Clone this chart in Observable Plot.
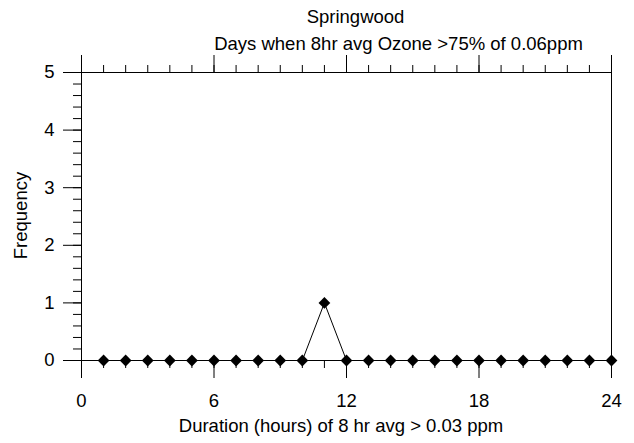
<!DOCTYPE html>
<html><head><meta charset="utf-8">
<script src="https://cdn.jsdelivr.net/npm/d3@7"></script>
<script src="https://cdn.jsdelivr.net/npm/@observablehq/plot@0.6"></script>
<style>
body{margin:0;background:#fff}
#chart svg{font-family:"Liberation Sans",Arial,sans-serif}
</style>
</head><body><div id="chart"></div>
<script>
const durations   = [1,2,3,4,5,6,7,8,9,10,11,12,13,14,15,16,17,18,19,20,21,22,23,24];
const frequencies = [0,0,0,0,0,0,0,0,0,0,1,0,0,0,0,0,0,0,0,0,0,0,0,0];
const xMajorTicks = [0,6,12,18,24];
const yMajorTicks = [0,1,2,3,4,5];
const titleText = "Springwood";
const subtitleText = "Days when 8hr avg Ozone >75% of 0.06ppm";
const xLabel = "Duration (hours) of 8 hr avg > 0.03 ppm";
const yLabel = "Frequency";

const data = durations.map((d, i) => ({duration: d, frequency: frequencies[i]}));
const xMinorTicks = d3.range(0, 25, 1);
const yMinorTicks = d3.range(0, 26, 1).map(v => v / 5);
const fs = 18.5;
const blank = () => "";
const fmt = d3.format("d");
const txt = {text: d => d, fontSize: fs, fill: "#000", lineAnchor: "middle", textAnchor: "middle"};

const chart = Plot.plot({
  width: 634,
  height: 443,
  marginLeft: 81,
  marginRight: 23,
  marginTop: 72,
  marginBottom: 83,
  style: {fontSize: fs + "px", fontFamily: '"Liberation Sans", Arial, sans-serif', background: "#fff", color: "#000"},
  x: {domain: [0, 24], label: null},
  y: {domain: [0, 5], label: null},
  marks: [
    Plot.frame({stroke: "#000"}),
    Plot.axisX({anchor: "bottom", ticks: xMajorTicks, tickSize: 18, tickPadding: 15, tickFormat: fmt, label: null, fontSize: fs}),
    Plot.axisX({anchor: "bottom", ticks: xMinorTicks, tickSize: 8, tickFormat: blank, label: null}),
    Plot.axisX({anchor: "top", ticks: xMajorTicks, tickSize: 18, tickFormat: blank, label: null}),
    Plot.axisX({anchor: "top", ticks: xMinorTicks, tickSize: 8, tickFormat: blank, label: null}),
    Plot.axisY({anchor: "left", ticks: yMajorTicks, tickSize: 18, tickPadding: 9, tickFormat: fmt, label: null, fontSize: fs}),
    Plot.axisY({anchor: "left", ticks: yMinorTicks, tickSize: 8, tickFormat: blank, label: null}),
    Plot.line(data, {x: "duration", y: "frequency", stroke: "#000", strokeWidth: 1}),
    Plot.dot(data, {x: "duration", y: "frequency", symbol: "diamond2", r: 5.3, fill: "#000", stroke: "none"}),
    Plot.text([titleText], {...txt, frameAnchor: "top", dx: 9, dy: -55.2}),
    Plot.text([subtitleText], {...txt, frameAnchor: "top", dx: 52, dy: -28.9}),
    Plot.text([xLabel], {...txt, frameAnchor: "bottom", dx: -5.5, dy: 66}),
    Plot.text([yLabel], {...txt, frameAnchor: "left", dx: -60.2, dy: -1, rotate: -90})
  ]
});
document.getElementById("chart").appendChild(chart);
</script>
</body></html>
